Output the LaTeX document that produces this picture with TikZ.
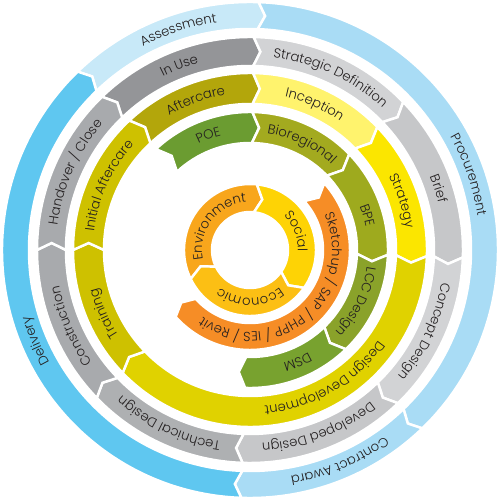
\documentclass[tikz,border=0pt]{standalone}
\usepackage{fontspec}
\setmainfont{Poppins}[UprightFont={* Light}]
\usetikzlibrary{decorations.text}

% colours
\definecolor{assess}{HTML}{C8E9F8}
\definecolor{procure}{HTML}{A9DCF5}
\definecolor{deliver}{HTML}{5FC7F0}
\definecolor{grayA}{HTML}{949598}
\definecolor{grayB}{HTML}{D2D3D5}
\definecolor{grayC}{HTML}{C6C7C9}
\definecolor{grayD}{HTML}{AEB0B2}
\definecolor{grayE}{HTML}{A8AAAD}
\definecolor{aftercare}{HTML}{B3A60B}
\definecolor{inception}{HTML}{FFF36D}
\definecolor{strategy}{HTML}{FBE600}
\definecolor{designdev}{HTML}{E0D200}
\definecolor{training}{HTML}{CEC100}
\definecolor{poe}{HTML}{6B9C31}
\definecolor{biogreen}{HTML}{A3AA1F}
\definecolor{bpe}{HTML}{9EAA1E}
\definecolor{lcc}{HTML}{8AA22A}
\definecolor{dsm}{HTML}{78A22F}
\definecolor{tools}{HTML}{F68D26}
\definecolor{environ}{HTML}{F8A61C}
\definecolor{social}{HTML}{FED305}
\definecolor{economic}{HTML}{FCBF14}
\definecolor{labeltext}{HTML}{231F20}

\newcommand{\arcfont}{\fontsize{7.5pt}{9pt}\selectfont\color{labeltext}}

% ring segment: start angle, end angle (clockwise), inner r, outer r, colour
\newcommand{\ringseg}[5]{%
  \pgfmathsetmacro{\rmid}{(#3+#4)/2}
  \pgfmathsetmacro{\tipang}{7/\rmid*180/pi}
  \fill[#5, draw=white, line width=1.4pt, line join=miter]
    (#1:#4) arc[start angle=#1, end angle=#2, radius=#4]
    -- ({#2-\tipang}:\rmid) -- (#2:#3)
    arc[start angle=#2, end angle=#1, radius=#3]
    -- ({#1-\tipang}:\rmid) -- cycle;
}
% label on a ring: centre angle, radius, text
\newcommand{\arclabel}[3]{%
  \path[decorate, decoration={text along path, text align=center,
      text={|\arcfont|#3}}]
    ({#1+100}:#2) arc[start angle={#1+100}, end angle={#1-100}, radius=#2];
}

\begin{document}
\begin{tikzpicture}[x=0.02cm, y=0.02cm]
  \useasboundingbox (-250,-250) rectangle (250,250);

  % outer ring
  \ringseg{134}{88}{221}{248}{assess}
  \ringseg{88}{-46}{221}{248}{procure}
  \ringseg{-46}{-92}{221}{248}{procure}
  \ringseg{-92}{-226}{221}{248}{deliver}
  \arclabel{108}{230}{Assessment}
  \arclabel{19}{230}{Procurement}
  \arclabel{-67}{230}{Contract Award}
  \arclabel{203}{230}{Delivery}

  % work stages
  \ringseg{134}{89}{184}{213}{grayA}
  \ringseg{89}{44}{184}{213}{grayB}
  \ringseg{44}{-2}{184}{213}{grayC}
  \ringseg{-2}{-46}{184}{213}{grayB}
  \ringseg{-46}{-92}{184}{213}{grayC}
  \ringseg{-92}{-136}{184}{213}{grayD}
  \ringseg{-136}{-180}{184}{213}{grayE}
  \ringseg{-180}{-226}{184}{213}{grayE}
  \arclabel{111}{194}{In Use}
  \arclabel{65}{194}{Strategic Definition}
  \arclabel{18}{194}{Brief}
  \arclabel{-25}{194}{Concept Design}
  \arclabel{-69}{194}{Developed Design}
  \arclabel{-115}{194}{Technical Design}
  \arclabel{203}{194}{Construction}
  \arclabel{156}{194}{Handover / Close}

  % yellow ring
  \ringseg{133}{89}{146}{177}{aftercare}
  \ringseg{89}{44}{146}{177}{inception}
  \ringseg{44}{-2}{146}{177}{strategy}
  \ringseg{-2}{-136}{146}{177}{designdev}
  \ringseg{-136}{-180}{146}{177}{training}
  \ringseg{-180}{-227}{146}{177}{training}
  \arclabel{110}{157}{Aftercare}
  \arclabel{66}{157}{Inception}
  \arclabel{18}{157}{Strategy}
  \arclabel{-60}{157}{Design Development}
  \arclabel{203.5}{157}{Training}
  \arclabel{155.5}{157}{Initial Aftercare}

  % green ring
  \ringseg{133}{89}{107}{138}{poe}
  \ringseg{89}{44}{107}{138}{biogreen}
  \ringseg{44}{-2}{107}{138}{bpe}
  \ringseg{-2}{-46}{107}{138}{lcc}
  \ringseg{-46}{-92}{107}{138}{dsm}
  \arclabel{110}{118}{POE}
  \arclabel{64}{118}{Bioregional}
  \arclabel{16.5}{118}{BPE}
  \arclabel{-26}{118}{LCC Design}
  \arclabel{-67}{118}{DSM}

  % software
  \ringseg{42}{-138}{73}{100}{tools}
  \arclabel{-50}{82}{Sketchup / SAP / PHPP / IES / Revit}

  % centre
  \ringseg{206}{84}{38}{66}{environ}
  \ringseg{84}{-35}{38}{66}{social}
  \ringseg{-35}{-154}{38}{66}{economic}
  \arclabel{143}{48}{Environment}
  \arclabel{22}{48}{Social}
  \arclabel{-90}{48}{Economic}
\end{tikzpicture}
\end{document}
